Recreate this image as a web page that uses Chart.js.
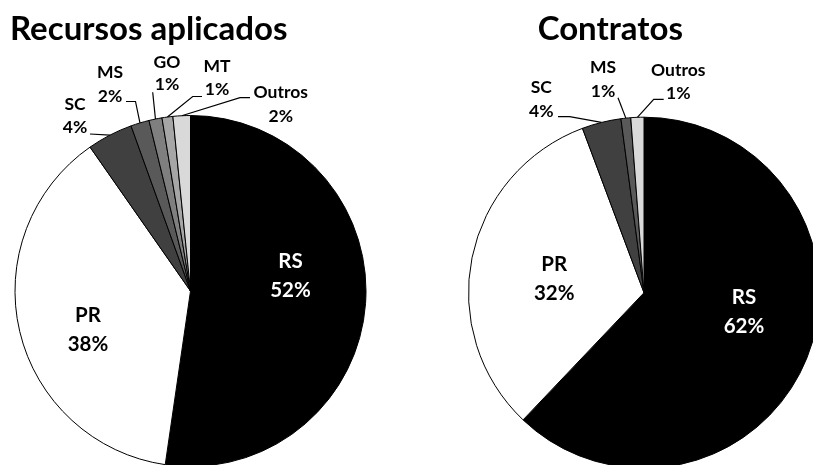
<!DOCTYPE html>
<html>
<head>
<meta charset="utf-8">
<script src="https://cdn.jsdelivr.net/npm/chart.js@4.4.1/dist/chart.umd.min.js"></script>
<style>
html,body{margin:0;padding:0;overflow:hidden;background:#fff;width:813px;height:465px;}
canvas{position:absolute;left:0;top:0;}
</style>
</head>
<body>
<canvas id="c1" width="830" height="480"></canvas>
<canvas id="c2" width="830" height="480"></canvas>
<script>
// ---------- DATA ----------
const recursosTitle = 'Recursos aplicados';
const recursosCategories = ['RS', 'PR', 'SC', 'MS', 'GO', 'MT', 'Outros'];
const recursosValues = [52.3, 38.0, 4.2, 1.7, 1.2, 1.0, 1.6];

const contratosTitle = 'Contratos';
const contratosCategories = ['RS', 'PR', 'SC', 'MS', 'Outros'];
const contratosValues = [62.1, 32.2, 3.6, 0.9, 1.2];

// ---------- STYLE / LAYOUT ----------
const sliceColors = {RS:'#000000', PR:'#ffffff', SC:'#404040', MS:'#595959', GO:'#7f7f7f', MT:'#a6a6a6', Outros:'#d9d9d9'};
const FONT = 'Lato, "Open Sans", sans-serif';
const OUTER_PX = 17.5, INNER_PX = 20.5, TITLE_PX = 33;

// label layouts: offsets relative to pie centre (text centre x, baselines of two lines, leader points)
const recursosLayout = {
  title: {x: 10, y: 40, align: 'left'},
  labels: [
    {dx: 100,   by: [-22.7, 6.3],    inner: true},
    {dx: -102.5,by: [30.7, 59.7],    inner: true},
    {dx: -115.5,by: [-181, -157.7],  leader: [[-100.5, -157]]},
    {dx: -80.5, by: [-213, -189.3],  leader: [[-64.5, -189.5], [-55, -189.5]]},
    {dx: -23.5, by: [-222.7, -201],  leader: [[-37.8, -198.7]]},
    {dx: 26.5,  by: [-219.3, -196],  leader: [[11.5, -194.5], [2.2, -194.5]]},
    {dx: 90.3,  by: [-193.3, -169.3],leader: [[59.5, -193.3], [49.5, -193.3]]}
  ]
};
const contratosLayout = {
  title: {x: 610.3, y: 40, align: 'center'},
  labels: [
    {dx: 100,   by: [11.3, 40],      inner: true},
    {dx: -89.8, by: [-21.7, 7.3],    inner: true},
    {dx: -102.7,by: [-199.4, -176],  leader: [[-86, -176], [-74.3, -176]]},
    {dx: -41,   by: [-220, -196],    leader: [[-26, -195]]},
    {dx: 34.3,  by: [-216.7, -193.4],leader: [[19.7, -193.4], [9.7, -193.4]]}
  ]
};

const labelPlugin = {
  id: 'pieLabels',
  afterDatasetsDraw(chart) {
    const cfg = chart.options.plugins.pieLabels;
    const ctx = chart.ctx;
    const meta = chart.getDatasetMeta(0);
    const values = chart.data.datasets[0].data;
    const cats = chart.data.labels;
    ctx.save();
    // title
    ctx.fillStyle = '#000';
    ctx.font = 'bold ' + TITLE_PX + 'px ' + FONT;
    ctx.textAlign = cfg.layout.title.align;
    ctx.textBaseline = 'alphabetic';
    ctx.fillText(cfg.title, cfg.layout.title.x, cfg.layout.title.y);
    meta.data.forEach((arc, i) => {
      const p = arc.getProps(['x', 'y', 'startAngle', 'endAngle', 'outerRadius'], true);
      const L = cfg.layout.labels[i];
      const pct = Math.round(values[i]) + '%';
      const tx = p.x + L.dx;
      ctx.textAlign = 'center';
      if (L.inner) {
        ctx.font = 'bold ' + INNER_PX + 'px ' + FONT;
        ctx.fillStyle = cats[i] === 'RS' ? '#ffffff' : '#000000';
      } else {
        ctx.font = 'bold ' + OUTER_PX + 'px ' + FONT;
        ctx.fillStyle = '#000000';
      }
      ctx.fillText(cats[i], tx, p.y + L.by[0]);
      ctx.fillText(pct, tx, p.y + L.by[1]);
      if (L.leader) {
        const mid = (p.startAngle + p.endAngle) / 2;
        const ex = p.x + Math.cos(mid) * p.outerRadius;
        const ey = p.y + Math.sin(mid) * p.outerRadius;
        ctx.beginPath();
        ctx.strokeStyle = '#000';
        ctx.lineWidth = 1.2;
        L.leader.forEach((pt, k) => {
          if (k === 0) ctx.moveTo(p.x + pt[0], p.y + pt[1]);
          else ctx.lineTo(p.x + pt[0], p.y + pt[1]);
        });
        ctx.lineTo(ex, ey);
        ctx.stroke();
      }
    });
    ctx.restore();
  }
};

function makePie(id, title, cats, vals, layout, padding) {
  return new Chart(document.getElementById(id), {
    type: 'pie',
    data: {
      labels: cats,
      datasets: [{
        data: vals,
        backgroundColor: cats.map(c => sliceColors[c]),
        borderColor: '#000000',
        borderWidth: 1
      }]
    },
    options: {
      responsive: false,
      animation: false,
      events: [],
      layout: {padding: padding},
      plugins: {
        legend: {display: false},
        tooltip: {enabled: false},
        title: {display: false},
        pieLabels: {title: title, layout: layout}
      }
    },
    plugins: [labelPlugin]
  });
}

makePie('c1', recursosTitle, recursosCategories, recursosValues, recursosLayout,
  {left: 14.5, top: 115, right: 463.5, bottom: 13});
makePie('c2', contratosTitle, contratosCategories, contratosValues, contratosLayout,
  {left: 468, top: 116.7, right: 10, bottom: 11.3});
</script>
</body>
</html>
